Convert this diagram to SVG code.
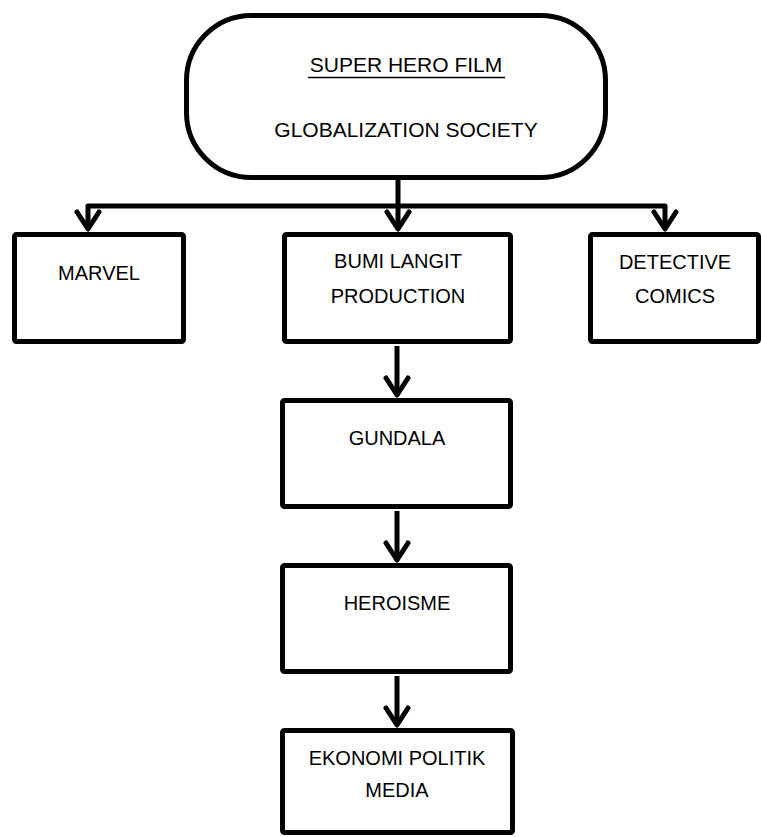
<svg xmlns="http://www.w3.org/2000/svg" width="762" height="837" viewBox="0 0 762 837">
<style>
.box{fill:#fff;stroke:#000;stroke-width:5}
.t{font-family:"Liberation Sans",Arial,sans-serif;font-size:20px;fill:#000;text-anchor:middle}
.tt{font-size:21px}
.c{fill:none;stroke:#000;stroke-width:5;stroke-linejoin:round}
</style>
<defs>
<marker id="arr" markerUnits="userSpaceOnUse" markerWidth="40" markerHeight="40" viewBox="-20 -20 40 40" refX="0" refY="0" orient="auto" overflow="visible">
<path d="M-17 -11 L0 0 L-17 11" fill="none" stroke="#000" stroke-width="5" stroke-linejoin="round" stroke-linecap="round"/>
</marker>
</defs>
<rect width="762" height="837" fill="#fff"/>
<g id="connectors">
<path class="c" d="M398 178 V229" marker-end="url(#arr)"/>
<path class="c" d="M398 206 H88 V229" marker-end="url(#arr)"/>
<path class="c" d="M398 206 H665 V229" marker-end="url(#arr)"/>
<path class="c" d="M397 346 V395" marker-end="url(#arr)"/>
<path class="c" d="M397 511 V560" marker-end="url(#arr)"/>
<path class="c" d="M397 676 V725" marker-end="url(#arr)"/>
</g>
<g id="top">
<rect class="box" x="186.5" y="15.5" width="419" height="162" rx="65"/>
<text class="t tt" x="406" y="72">SUPER HERO FILM</text>
<line x1="308" y1="77.5" x2="505" y2="77.5" stroke="#000" stroke-width="1.5"/>
<text class="t tt" x="406" y="137">GLOBALIZATION SOCIETY</text>
</g>
<g id="marvel">
<rect class="box" x="14.5" y="234.5" width="169" height="107" rx="2"/>
<text class="t" x="99" y="280">MARVEL</text>
</g>
<g id="bumi">
<rect class="box" x="284.5" y="234.5" width="226" height="107" rx="2"/>
<text class="t" x="398" y="268">BUMI LANGIT</text>
<text class="t" x="398" y="303">PRODUCTION</text>
</g>
<g id="detective">
<rect class="box" x="590.5" y="234.5" width="168" height="107" rx="2"/>
<text class="t" x="675" y="269">DETECTIVE</text>
<text class="t" x="675" y="303">COMICS</text>
</g>
<g id="gundala">
<rect class="box" x="282.5" y="400.5" width="228" height="106" rx="2"/>
<text class="t" x="397" y="445">GUNDALA</text>
</g>
<g id="heroisme">
<rect class="box" x="282.5" y="565.5" width="228" height="106" rx="2"/>
<text class="t" x="397" y="610">HEROISME</text>
</g>
<g id="ekonomi">
<rect class="box" x="282.5" y="730.5" width="230" height="102" rx="2"/>
<text class="t" x="397" y="765">EKONOMI POLITIK</text>
<text class="t" x="397" y="797">MEDIA</text>
</g>
</svg>
